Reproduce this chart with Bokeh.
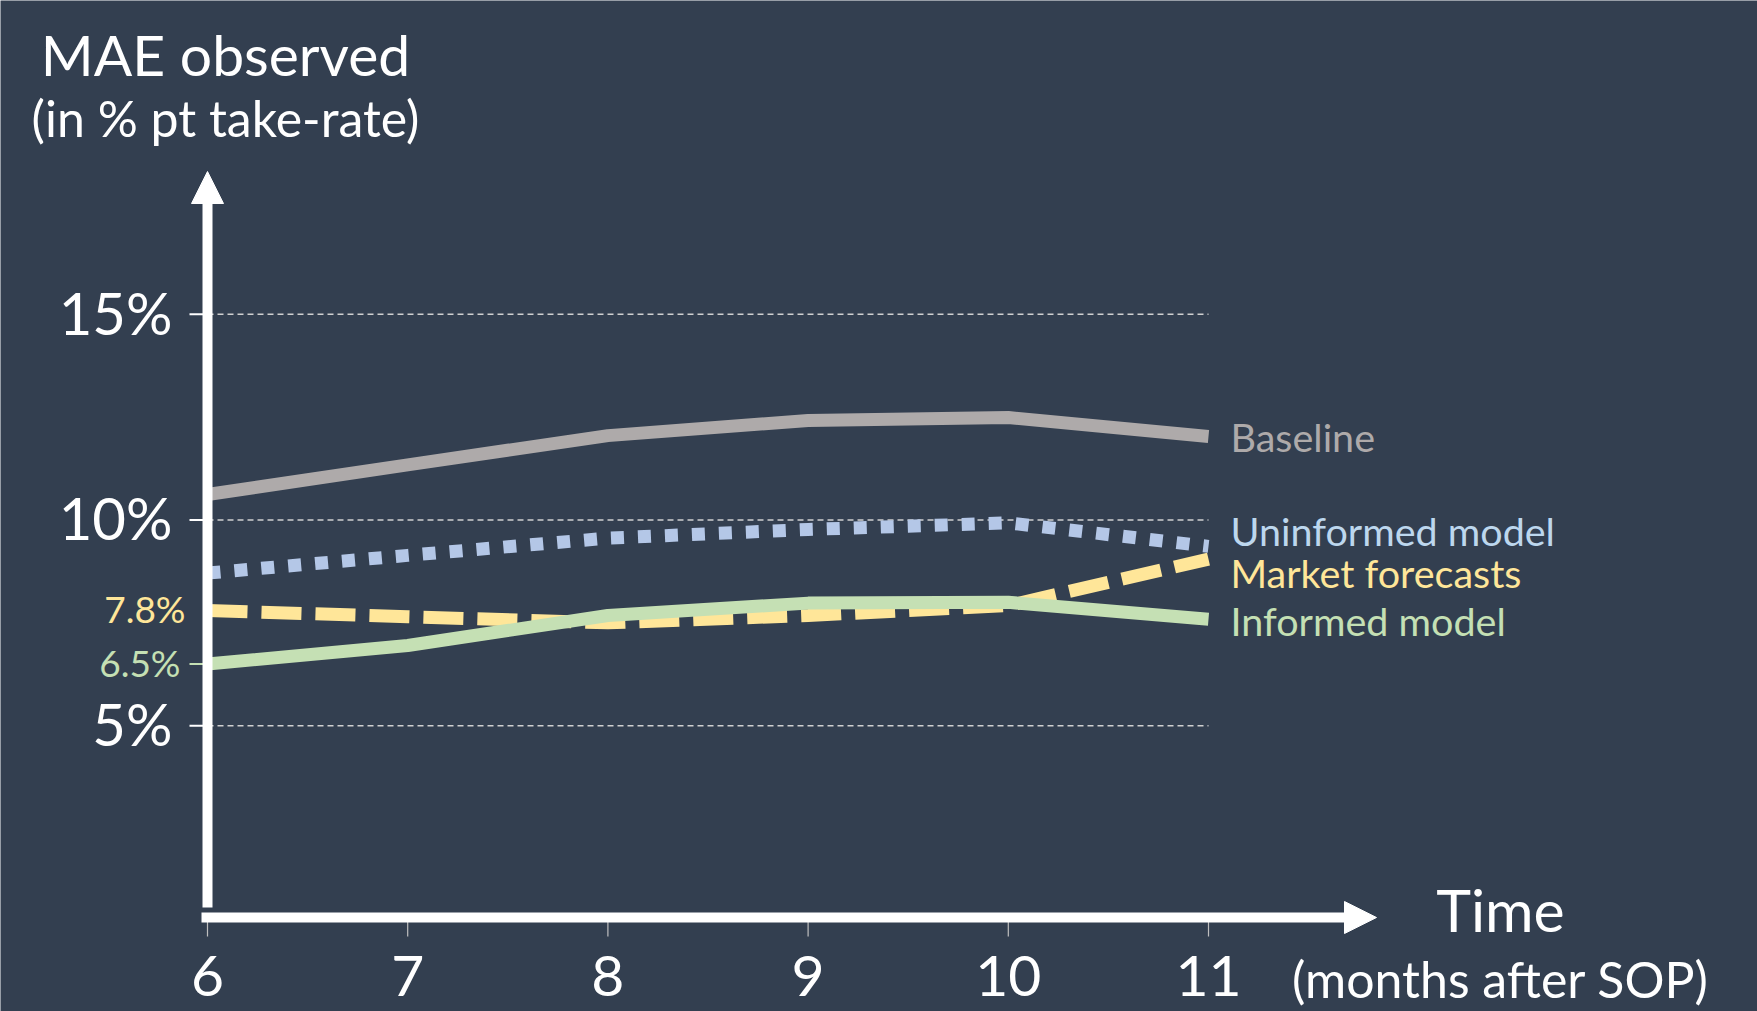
from bokeh.plotting import figure
from bokeh.models import Range1d, Arrow, NormalHead
from bokeh.core.properties import value
from bokeh.embed import file_html
from bokeh.resources import INLINE

# ---- data -------------------------------------------------------------
months = [6, 7, 8, 9, 10, 11]
baseline = [10.62, 11.34, 12.05, 12.42, 12.49, 12.03]
uninformed = [8.71, 9.14, 9.56, 9.77, 9.93, 9.36]
market = [7.8, 7.65, 7.5, 7.68, 7.92, 9.05]
informed = [6.5, 6.95, 7.68, 7.98, 8.0, 7.59]

y_ticks = [5, 10, 15]
y_tick_labels = ["5%", "10%", "15%"]
x_tick_labels = [str(m) for m in months]

series_names = ["Baseline", "Uninformed model", "Market forecasts", "Informed model"]

# ---- style ------------------------------------------------------------
BG = "#333F50"
FONT = value("Lato")
C_BASE = "#AEAAAA"
C_UNINF = "#B4C7E7"
C_UNINF_TXT = "#BDD7EE"
C_MARKET = "#FFE699"
C_INF = "#C5E0B4"

W, H = 1757, 1011
PX_MONTH = 200.2     # pixels per month
PX_PT = 41.15        # pixels per percentage point
X_ORIGIN = 207       # pixel column of month 6
Y_ZERO = 931         # pixel row of 0 %
BASE_SHIFT = 0.40    # lift of the alphabetic baseline, in em


def dx(px):
    return months[0] + (px - X_ORIGIN) / PX_MONTH


def dy(py):
    return (Y_ZERO - py) / PX_PT


p = figure(
    width=W, height=H,
    x_range=Range1d(dx(0), dx(W)), y_range=Range1d(dy(H), dy(0)),
    x_axis_type=None, y_axis_type=None,
    toolbar_location=None, output_backend="svg",
    min_border=0, outline_line_color=None,
    background_fill_color=BG, border_fill_color=BG,
)


def label(xs, ys, texts, size, color, align="left", offset=0):
    """Text placed with its baseline at ys (plus an offset in pixels)."""
    p.text(x=xs, y=ys, text=texts, text_align=align, text_baseline="alphabetic",
           y_offset=offset - BASE_SHIFT * size,
           text_font=FONT, text_font_size=f"{size}px", text_color=color)


# dashed reference lines at the major ticks
p.segment(x0=months[0], y0=y_ticks, x1=months[-1], y1=y_ticks,
          line_color="#D0D0D0", line_width=1.4, line_dash="6 4")

# tick marks
p.segment(x0=dx(189), y0=y_ticks, x1=months[0], y1=y_ticks,
          line_color="white", line_width=2)
p.segment(x0=[dx(189)], y0=[informed[0]], x1=[months[0]], y1=[informed[0]],
          line_color=C_INF, line_width=2)
p.segment(x0=months, y0=dy(917), x1=months, y1=dy(936),
          line_color="#BFBFBF", line_width=1.2)

# series
p.line(months, baseline, line_color=C_BASE, line_width=13)
p.line(months, uninformed, line_color=C_UNINF, line_width=13, line_dash="13 14")
p.line(months, market, line_color=C_MARKET, line_width=13, line_dash="40 14")
p.line(months, informed, line_color=C_INF, line_width=13)

# axes drawn as arrows
p.add_layout(Arrow(end=NormalHead(size=32, fill_color="white", line_color="white", line_width=1),
                   x_start=months[0], y_start=dy(907), x_end=months[0], y_end=dy(171),
                   line_color="white", line_width=10))
p.add_layout(Arrow(end=NormalHead(size=32, fill_color="white", line_color="white", line_width=1),
                   x_start=dx(201), y_start=dy(917), x_end=dx(1376), y_end=dy(917),
                   line_color="white", line_width=10))

# tick labels
label([dx(172)] * len(y_ticks), y_ticks, y_tick_labels, 58, "white", "right", offset=21)
label(months, [dy(998)] * len(months), x_tick_labels, 57, "white", "center")

# start values
label([dx(185)], [market[0]], [f"{market[0]:.1f}%"], 37, C_MARKET, "right", offset=13)
label([dx(180)], [informed[0]], [f"{informed[0]:.1f}%"], 37, C_INF, "right", offset=13)

# series names
label([dx(1230)] * 4, [dy(452), dy(546), dy(588), dy(636)], series_names, 39.5,
      [C_BASE, C_UNINF_TXT, C_MARKET, C_INF])

# axis titles
label([dx(225)], [dy(76)], ["MAE observed"], 57, "white", "center")
label([dx(225)], [dy(137)], ["(in % pt take-rate)"], 50, "white", "center")
label([dx(1500)], [dy(933)], ["Time"], 59, "white", "center")
label([dx(1500)], [dy(998)], ["(months after SOP)"], 50, "white", "center")

open("out.html", "w").write(file_html(p, INLINE))
